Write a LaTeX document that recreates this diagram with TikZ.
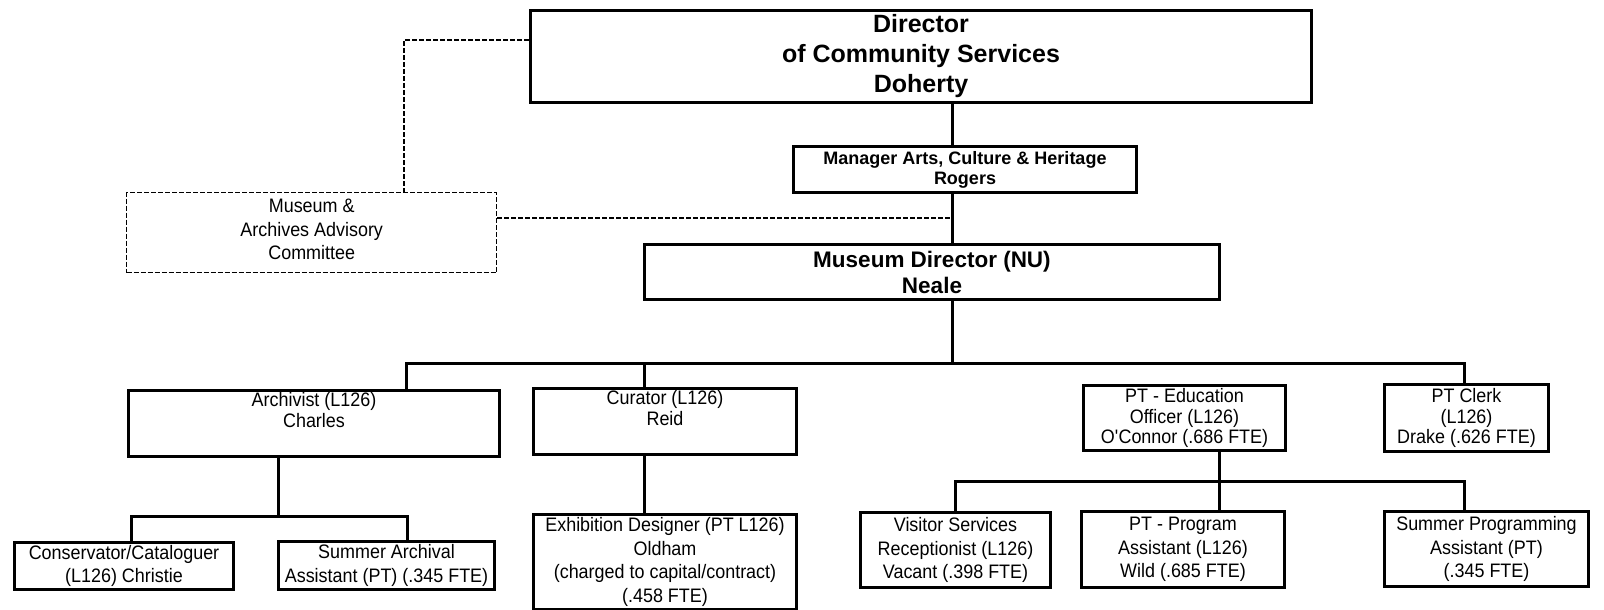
\documentclass[tikz,border=0pt]{standalone}
\usepackage{fontspec}
\setmainfont{Liberation Sans}
\newfontfamily\nfont[FakeStretch=0.92]{Liberation Sans}
\newcommand\obox[7]{%
  \pgfmathsetmacro\obw{#5-#3}\pgfmathsetmacro\obh{#6-#4}%
  \node[#1,minimum width=\obw pt,minimum height=\obh pt] (#2) at (#3,#4) {#7};}
\begin{document}
\begin{tikzpicture}[x=1pt,y=-1pt,
  box/.style={draw, line width=3pt, inner sep=0pt, align=center, anchor=north west},
  dbox/.style={draw, line width=1.4pt, dash pattern=on 5pt off 2pt, inner sep=0pt, align=center, anchor=north west},
  conn/.style={line width=3pt},
  dconn/.style={line width=1.4pt, dash pattern=on 5pt off 2pt},
  nt/.style={font=\nfont\fontsize{19.5}{23.5}\selectfont},
  ntt/.style={font=\nfont\fontsize{19.5}{20.5}\selectfont},
]
\useasboundingbox[fill=white] (0,0) rectangle (1604,610);

\obox{box,font=\bfseries\fontsize{25}{30}\selectfont}{dir}{529}{9}{1310}{101}{Director\\of Community Services\\Doherty}
\obox{box,font=\bfseries\fontsize{18}{20}\selectfont}{mgr}{792}{145}{1135}{191}{Manager Arts, Culture \& Heritage\\Rogers}
\obox{box,font=\bfseries\fontsize{22.5}{26}\selectfont}{mus}{643}{243}{1218}{298}{Museum Director (NU)\\Neale}
\obox{dbox,nt}{adv}{126}{192}{496}{272}{Museum \&\\Archives Advisory\\Committee\\[-24pt]\strut}
\obox{box,ntt}{arch}{127}{389}{498}{455}{Archivist (L126)\\Charles\\\strut}
\obox{box,ntt}{cur}{532}{387}{795}{453}{Curator (L126)\\Reid\\\strut}
\obox{box,ntt}{edu}{1082}{384}{1284}{449}{PT - Education\\Officer (L126)\\O\textquotesingle Connor (.686 FTE)}
\obox{box,ntt}{clerk}{1383}{383}{1547}{450}{PT Clerk\\(L126)\\Drake (.626 FTE)}
\obox{box,nt}{cons}{13}{541}{232}{588}{Conservator/Cataloguer\\(L126) Christie}
\obox{box,nt}{summ}{277}{540}{493}{588}{Summer Archival\\Assistant (PT) (.345 FTE)}
\obox{box,nt}{exh}{532}{513}{795}{608}{Exhibition Designer (PT L126)\\Oldham\\(charged to capital/contract)\\(.458 FTE)}
\obox{box,nt}{vis}{859}{511}{1049}{586}{Visitor Services\\Receptionist (L126)\\Vacant (.398 FTE)}
\obox{box,nt}{prog}{1080}{510}{1283}{586}{PT - Program\\Assistant (L126)\\Wild (.685 FTE)}
\obox{box,nt}{sprog}{1383}{510}{1587}{585}{Summer Programming\\Assistant (PT)\\(.345 FTE)}

% main spine
\coordinate (spine) at (952,0);
\coordinate (busL) at (406,363);
\coordinate (busR) at (1464,363);
\coordinate (curx) at (644,363);
\draw[conn] (dir.south -| spine) -- (mgr.north -| spine);
\draw[conn] (mgr.south -| spine) -- (mus.north -| spine);
\draw[conn] (mus.south -| spine) -- (spine |- busL);
\draw[conn] (arch.north -| busL) -- (busL) -- (busR) -- (clerk.north -| busR);
\draw[conn] (curx) -- (cur.north -| curx);
\draw[conn] (cur.south -| curx) -- (exh.north -| curx);

% archivist group
\coordinate (ax) at (278,516);
\coordinate (sbL) at (131,516);
\coordinate (sbR) at (407,516);
\draw[conn] (arch.south -| ax) -- (ax);
\draw[conn] (cons.north -| sbL) -- (sbL) -- (sbR) -- (summ.north -| sbR);

% education group
\coordinate (ex) at (1219,481);
\coordinate (ebL) at (955,481);
\coordinate (ebR) at (1464,481);
\draw[conn] (edu.south -| ex) -- (prog.north -| ex);
\draw[conn] (vis.north -| ebL) -- (ebL) -- (ebR) -- (sprog.north -| ebR);

% advisory committee (dashed)
\coordinate (dk) at (404,40);
\coordinate (dr) at (0,218);
\draw[dconn] (dir.west |- dk) -- (dk) -- (adv.north -| dk);
\draw[dconn] (adv.east |- dr) -- (spine |- dr);
\end{tikzpicture}
\end{document}
